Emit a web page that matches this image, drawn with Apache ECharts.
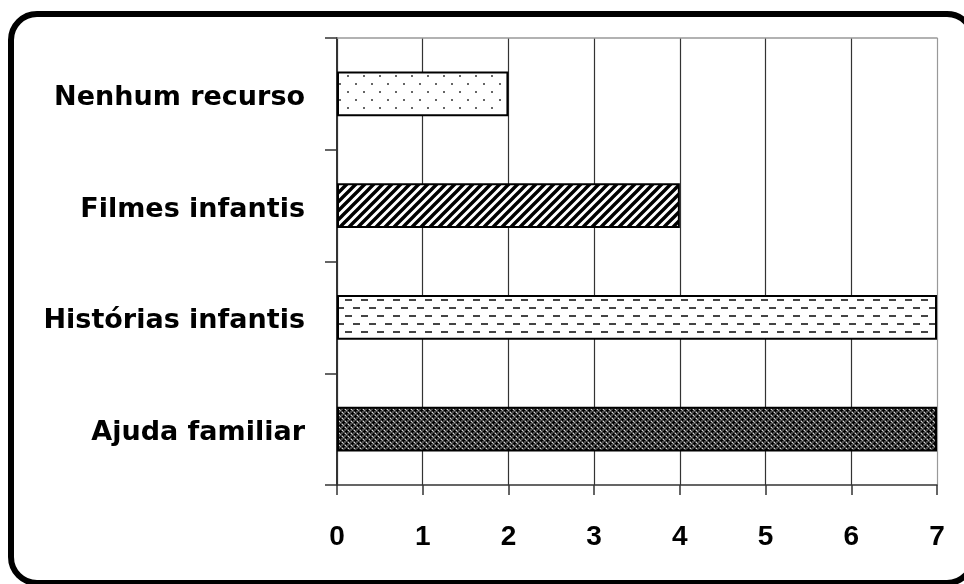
<!DOCTYPE html>
<html>
<head>
<meta charset="utf-8">
<script src="https://cdn.jsdelivr.net/npm/echarts@6/dist/echarts.min.js"></script>
<style>
  html, body { margin: 0; padding: 0; background: #fff; }
  #chart { width: 964px; height: 584px; }
</style>
</head>
<body>
<div id="chart"></div>
<script>
// Resources used, listed bottom to top along the category axis
const categories = ['Ajuda familiar', 'Histórias infantis', 'Filmes infantis', 'Nenhum recurso'];
const values = [7, 7, 4, 2];
const xTicks = [0, 1, 2, 3, 4, 5, 6, 7];

// Small canvas tiles used as fill patterns for each bar
function makeTile(w, h, draw) {
  const c = document.createElement('canvas');
  c.width = w; c.height = h;
  const ctx = c.getContext('2d');
  draw(ctx, w, h);
  return { image: c, repeat: 'repeat' };
}

const crossHatch = makeTile(6, 6, (ctx) => {
  ctx.fillStyle = '#4a4a4a'; ctx.fillRect(0, 0, 6, 6);
  ctx.fillStyle = '#000';
  ctx.fillRect(0, 2, 3, 1); ctx.fillRect(1, 1, 1, 3);
  ctx.fillRect(3, 5, 3, 1); ctx.fillRect(4, 4, 1, 2); ctx.fillRect(4, 0, 1, 1);
  ctx.fillStyle = '#a8a8a8';
  ctx.fillRect(4, 2, 1, 1); ctx.fillRect(1, 5, 1, 1);
  ctx.fillStyle = '#dcdcdc';
  ctx.fillRect(3, 1, 1, 1); ctx.fillRect(0, 4, 1, 1);
});

const dashes = makeTile(16, 16, (ctx) => {
  ctx.fillStyle = '#fff'; ctx.fillRect(0, 0, 16, 16);
  ctx.fillStyle = '#444';
  ctx.fillRect(1, 3, 7, 2);
  ctx.fillRect(9, 11, 7, 2);
});

const diagonal = makeTile(9, 9, (ctx) => {
  ctx.fillStyle = '#fff'; ctx.fillRect(0, 0, 9, 9);
  ctx.strokeStyle = '#000'; ctx.lineWidth = 3.4;
  ctx.beginPath();
  ctx.moveTo(-9, 18); ctx.lineTo(18, -9);
  ctx.moveTo(-18, 18); ctx.lineTo(9, -9);
  ctx.moveTo(0, 18); ctx.lineTo(27, -9);
  ctx.stroke();
});

const dots = makeTile(16, 16, (ctx) => {
  ctx.fillStyle = '#fff'; ctx.fillRect(0, 0, 16, 16);
  ctx.fillStyle = '#666';
  ctx.fillRect(3, 3, 2, 2);
  ctx.fillRect(11, 11, 2, 2);
});

const fills = [crossHatch, dashes, diagonal, dots];

const chart = echarts.init(document.getElementById('chart'), null, { renderer: 'canvas' });

chart.setOption({
  animation: false,
  backgroundColor: '#fff',
  grid: { left: 337, right: 27, top: 38, bottom: 99, containLabel: false },
  xAxis: [{
    type: 'value',
    min: xTicks[0],
    max: xTicks[xTicks.length - 1],
    interval: 1,
    position: 'bottom',
    axisLine: { show: true, lineStyle: { color: '#333', width: 1.5 } },
    axisTick: { show: true, length: 10, lineStyle: { color: '#333', width: 1.5 } },
    axisLabel: {
      margin: 38,
      color: '#000',
      fontFamily: 'Liberation Sans, Arial, sans-serif',
      fontWeight: 'bold',
      fontSize: 28
    },
    splitLine: {
      show: true,
      lineStyle: { color: ['#333', '#333', '#333', '#333', '#333', '#333', '#333', '#999'], width: 1.2 }
    }
  }, {
    type: 'value',
    min: xTicks[0],
    max: xTicks[xTicks.length - 1],
    position: 'top',
    axisLine: { show: true, lineStyle: { color: '#999', width: 1.5 } },
    axisTick: { show: false },
    axisLabel: { show: false },
    splitLine: { show: false }
  }],
  yAxis: {
    type: 'category',
    data: categories,
    axisLine: { show: true, lineStyle: { color: '#333', width: 2 } },
    axisTick: { show: true, length: 12, lineStyle: { color: '#333', width: 1.5 } },
    axisLabel: {
      margin: 32,
      formatter: (name) => '{c|' + name + '}',
      rich: {
        c: {
          color: '#000',
          fontFamily: '"Comic Sans MS", "DejaVu Sans", sans-serif',
          fontWeight: 'bold',
          fontSize: 27,
          padding: [8, 0, 0, 0]
        }
      }
    }
  },
  series: [{
    type: 'bar',
    xAxisIndex: 0,
    barWidth: '40%',
    data: values.map((v, i) => ({
      value: v,
      itemStyle: { color: fills[i], borderColor: '#000', borderWidth: 2 }
    })),
    z: 3
  }],
  graphic: [{
    type: 'rect',
    shape: { x: 11, y: 14, width: 962, height: 569, r: 26 },
    style: { fill: 'none', stroke: '#000', lineWidth: 6 },
    z: 10
  }]
});
</script>
</body>
</html>
